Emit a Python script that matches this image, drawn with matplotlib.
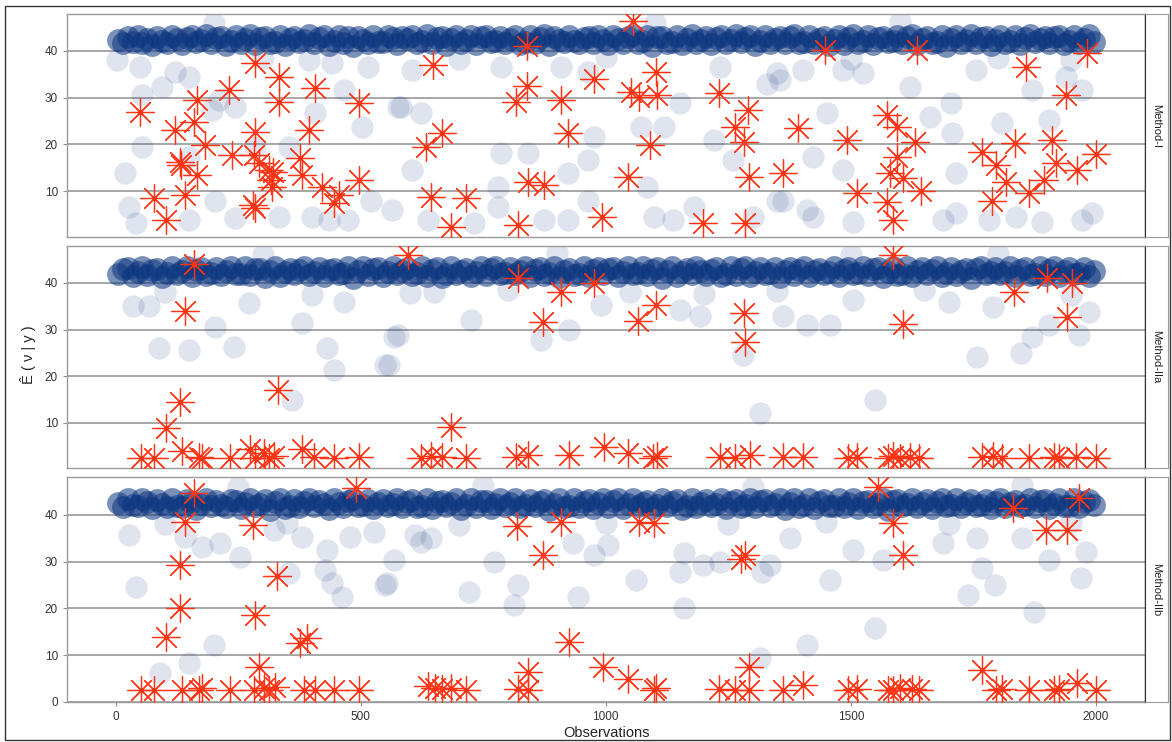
import numpy as np
import matplotlib
matplotlib.use("Agg")
import matplotlib.pyplot as plt
from matplotlib.patches import Rectangle

plt.rcParams['font.family'] = ['Liberation Sans', 'DejaVu Sans']

# ---------------- data ----------------
panel_names = ["Method-I", "Method-IIa", "Method-IIb"]
x_ticks = [0, 500, 1000, 1500, 2000]

# observation index of the band points (every 10th observation)
band_x = np.arange(5, 2000, 10)

# dense band of fitted values, one list per panel
band_y_1 = [42.3, 41.6, 42.9, 42.0, 43.3, 41.8, 42.6, 41.2, 43.0, 42.2, 41.7, 43.2, 42.5, 41.4, 42.8, 43.1, 41.9, 42.4, 43.5, 41.6,
            42.7, 42.9, 41.3, 42.1, 43.2, 41.8, 42.5, 43.4, 41.5, 42.8, 43.0, 41.7, 42.0, 43.3, 41.2, 42.6, 42.9, 41.9, 42.3, 43.4,
            41.6, 42.8, 43.1, 41.3, 42.2, 43.2, 41.8, 42.9, 41.1, 43.0, 42.4, 41.6, 43.3, 42.0, 41.9, 43.1, 42.7, 41.5, 42.9, 42.5,
            43.2, 41.8, 42.1, 43.5, 41.6, 42.8, 43.0, 41.3, 42.5, 43.2, 41.7, 42.3, 43.1, 41.4, 42.9, 43.3, 41.9, 42.2, 43.0, 41.6,
            42.6, 43.3, 41.5, 42.0, 43.1, 41.8, 42.7, 43.4, 41.2, 42.9, 42.4, 41.9, 43.2, 42.1, 41.6, 42.8, 43.0, 41.7, 43.3, 42.3,
            41.5, 43.1, 42.5, 41.8, 42.9, 43.5, 41.6, 42.2, 43.2, 41.1, 42.9, 43.0, 41.7, 42.0, 43.3, 41.5, 42.6, 43.4, 41.8, 42.4,
            43.0, 41.4, 42.8, 43.2, 41.7, 42.3, 43.4, 41.9, 42.7, 43.1, 41.3, 42.1, 43.3, 41.6, 42.5, 43.0, 41.8, 42.9, 43.5, 41.6,
            42.0, 43.2, 41.7, 42.6, 42.9, 41.2, 42.4, 43.3, 41.5, 42.8, 43.4, 41.8, 42.2, 43.1, 41.4, 42.7, 43.0, 41.9, 42.1, 43.3,
            41.7, 42.9, 43.5, 41.5, 42.5, 43.0, 41.8, 42.0, 43.3, 41.1, 42.6, 43.1, 41.6, 42.3, 43.4, 41.8, 42.8, 42.9, 41.3, 42.4,
            43.2, 41.7, 42.2, 43.3, 41.5, 42.7, 43.4, 41.9, 42.5, 43.0, 41.6, 42.9, 43.2, 41.4, 42.1, 43.1, 41.8, 42.6, 43.5, 42.0]
band_y_2 = [41.8, 42.9, 43.2, 41.5, 42.4, 43.4, 41.7, 42.7, 43.0, 41.2, 42.2, 43.3, 41.8, 42.5, 43.5, 41.4, 42.8, 43.1, 41.7, 42.1,
            43.2, 41.6, 42.6, 43.4, 41.9, 42.0, 43.5, 41.6, 42.9, 43.0, 41.3, 42.5, 43.3, 41.5, 42.3, 43.0, 41.8, 42.7, 43.4, 41.7,
            42.4, 43.2, 41.4, 42.8, 43.0, 41.8, 42.1, 43.4, 41.1, 42.6, 43.3, 41.6, 42.9, 43.1, 41.5, 42.3, 43.5, 41.9, 42.5, 43.2,
            41.7, 42.2, 43.4, 41.5, 42.7, 43.1, 41.2, 42.0, 43.4, 41.8, 42.6, 43.0, 41.4, 42.4, 43.3, 41.7, 42.9, 43.5, 41.8, 42.1,
            43.1, 41.9, 42.5, 43.4, 41.5, 42.8, 43.2, 41.6, 42.2, 43.3, 41.3, 42.6, 43.0, 41.7, 42.0, 43.5, 41.5, 42.7, 43.2, 41.8,
            42.9, 43.1, 41.4, 42.4, 43.4, 41.8, 42.1, 43.4, 41.7, 42.8, 43.1, 41.1, 42.5, 43.3, 41.5, 42.3, 43.0, 41.9, 43.5, 42.6,
            41.6, 42.7, 43.2, 41.4, 42.0, 43.3, 41.7, 42.9, 43.4, 41.5, 42.4, 43.1, 41.8, 42.2, 43.2, 41.2, 42.6, 43.2, 41.7, 42.8,
            43.4, 41.5, 42.5, 43.0, 41.8, 42.3, 43.5, 41.4, 42.7, 43.2, 41.9, 42.1, 43.3, 41.6, 42.9, 43.1, 41.3, 42.4, 43.4, 41.7,
            42.0, 43.3, 41.5, 42.6, 43.1, 41.8, 42.8, 43.5, 41.4, 42.2, 43.2, 41.7, 42.5, 43.0, 41.1, 42.9, 43.4, 41.8, 42.3, 43.1,
            41.9, 42.4, 43.4, 41.5, 42.7, 43.1, 41.7, 42.0, 43.3, 41.6, 42.8, 43.4, 41.4, 42.5, 43.2, 41.8, 42.2, 43.1, 41.5, 42.6]
band_y_3 = [42.5, 41.6, 43.3, 42.1, 41.8, 43.4, 42.7, 41.4, 43.1, 42.4, 41.7, 43.4, 42.0, 41.6, 43.2, 42.8, 41.2, 42.3, 43.5, 41.8,
            43.0, 42.2, 41.7, 43.2, 42.9, 41.5, 42.6, 43.4, 41.9, 42.4, 43.1, 41.1, 42.7, 43.3, 41.5, 42.0, 43.1, 41.7, 42.8, 43.5,
            41.8, 43.0, 42.3, 41.3, 43.3, 42.5, 41.6, 42.9, 43.4, 41.8, 42.1, 43.2, 41.4, 42.6, 43.1, 41.9, 42.4, 43.5, 41.6, 42.8,
            43.2, 41.7, 42.0, 43.4, 41.5, 42.7, 43.0, 41.8, 42.5, 43.4, 41.2, 42.2, 43.3, 41.7, 42.9, 43.0, 41.5, 42.3, 43.3, 41.8,
            42.6, 43.4, 41.6, 42.1, 43.2, 41.9, 42.8, 43.1, 41.1, 42.4, 43.3, 41.6, 42.0, 43.5, 41.7, 42.7, 43.2, 41.4, 42.5, 43.4,
            41.7, 42.9, 43.3, 41.5, 42.3, 43.5, 41.8, 42.6, 43.0, 41.5, 42.2, 43.3, 41.8, 42.8, 43.2, 41.3, 42.0, 43.4, 41.6, 42.5,
            43.2, 41.8, 42.4, 43.4, 41.4, 42.7, 43.2, 41.7, 42.1, 43.4, 41.6, 42.9, 43.1, 41.9, 42.3, 43.3, 41.2, 42.6, 43.5, 41.7,
            42.2, 43.3, 41.5, 42.8, 43.1, 41.8, 42.0, 43.5, 41.6, 42.5, 43.3, 41.5, 42.7, 43.0, 41.7, 42.4, 43.4, 41.1, 42.9, 43.2,
            41.9, 42.3, 43.4, 41.7, 42.6, 43.2, 41.4, 42.8, 43.3, 41.8, 42.2, 43.4, 41.6, 42.5, 43.2, 41.8, 42.1, 43.1, 41.5, 42.7,
            43.3, 41.6, 42.6, 43.0, 41.9, 42.2, 43.5, 41.7, 42.9, 43.2, 41.5, 42.4, 43.3, 41.8, 42.0, 43.4, 41.7, 42.7, 43.2, 42.1]

# lighter, scattered fitted values
scat_x_1 = [4, 49, 122, 150, 95, 55, 244, 211, 55, 20, 28, 41, 150, 150, 203, 244,
            333, 400, 435, 475, 522, 563, 502, 467, 407, 577, 394, 516, 441, 353,
            285, 197, 604, 583, 624, 787, 909, 963, 1071, 1118, 1152, 1234, 1329,
            1350, 787, 841, 976, 604, 922, 963, 1220, 1260, 638, 732, 780, 874, 922,
            963, 1098, 1138, 1179, 1301, 1350, 1085, 780, 1356, 1402, 1451, 1484,
            1524, 1423, 1484, 1620, 1661, 1705, 1707, 1756, 1809, 1870, 1904, 1939,
            1972, 1423, 1504, 1687, 1715, 1782, 1837, 1890, 1972, 1992, 1362, 1715,
            1410, 300, 700, 1000, 1500, 1800, 1100, 1600, 200, 1950]
scat_y_1 = [38, 36.6, 35.5, 34.4, 32.3, 30.6, 28, 29.5, 19.5, 13.9, 6.6, 3.2, 17.3,
            3.8, 8, 4.2, 4.5, 4.5, 3.8, 3.8, 8, 6, 23.7, 31.6, 26.7, 28, 38, 36.6,
            37.4, 19.5, 19.5, 27.4, 36, 28, 26.7, 36.6, 36.6, 35.5, 23.7, 23.7,
            28.8, 36.6, 33, 35.3, 18.2, 18.2, 21.6, 14.5, 13.9, 16.7, 21, 16.7,
            3.8, 3.2, 6.6, 3.8, 3.8, 8, 4.5, 3.8, 6.6, 4.5, 8, 11, 11, 33.8, 36,
            26.7, 36, 35.3, 17.3, 14.5, 32.3, 25.9, 28.8, 22.4, 36, 24.6, 31.6,
            25.2, 34.4, 31.6, 4.5, 3.4, 3.8, 5.3, 3.8, 4.5, 3.4, 3.8, 5.3, 8,
            13.9, 6, 38.5, 38.3, 38.6, 38.2, 38.4, 46, 46.2, 46, 38]
scat_x_2 = [35, 89, 150, 203, 242, 380, 431, 445, 549, 360, 569, 69, 272, 467, 577,
            557, 726, 925, 868, 1152, 1193, 1315, 1280, 990, 1362, 1410, 1457, 1504,
            1549, 1758, 1848, 1870, 1904, 1965, 1986, 1789, 1701, 100, 400, 650,
            800, 1050, 1350, 1650, 1950, 300, 900, 1500, 1800, 600, 1200]
scat_y_2 = [35, 26, 25.7, 30.6, 26.3, 31.4, 26, 21.4, 22.4, 15, 28.4, 35, 35.7, 36,
            28.9, 22.4, 32, 30, 27.8, 34.2, 33, 12.2, 24.6, 35.3, 33, 31, 31, 36.4,
            15, 24.2, 25, 28.4, 31, 28.9, 33.8, 34.9, 36, 38, 37.5, 38, 38.5, 38,
            38.2, 38.4, 37.5, 46, 46.3, 46, 46.2, 37.8, 37.6]
scat_x_3 = [41, 28, 91, 150, 201, 142, 177, 213, 254, 323, 380, 431, 427, 441, 461,
            478, 549, 569, 528, 353, 553, 610, 644, 722, 772, 821, 813, 943, 933,
            976, 1004, 1061, 1159, 1152, 1159, 1199, 1234, 1319, 1315, 624, 1335,
            1410, 1457, 1504, 1549, 1565, 1687, 1738, 1768, 1793, 1758, 1874, 1904,
            1970, 1980, 1850, 1376, 100, 350, 700, 1000, 1250, 1450, 1700, 1950,
            250, 750, 1300, 1850]
scat_y_3 = [24.6, 35.7, 6.2, 8.3, 12.2, 35.3, 33.1, 34, 31, 36.8, 35.3, 32.5, 28.2,
            25.4, 22.4, 35.3, 25, 30.4, 36.4, 27.6, 25.4, 35.7, 35, 23.5, 30, 25,
            20.7, 22.4, 34, 31.4, 33.6, 26, 31.9, 27.8, 20, 29.3, 30, 27.8, 9.4,
            34.2, 29.3, 12.2, 26, 32.5, 15.8, 30.4, 34, 22.8, 28.6, 25, 35, 19.2,
            30.4, 26.5, 32, 35, 35, 38, 38.3, 37.8, 38.2, 38, 38.4, 38, 38.5, 46,
            46.2, 46, 46.3]

# observed values flagged as outliers (asterisks)
out_x_1 = [49, 79, 102, 132, 134, 122, 160, 167, 142, 167, 183, 231, 238, 285, 285,
           282, 285, 280, 292, 313, 322, 318, 319, 333, 333, 377, 380, 394, 407, 421,
           445, 455, 496, 496, 648, 665, 634, 644, 685, 715, 817, 839, 821, 841, 874,
           909, 922, 976, 993, 1045, 1051, 1067, 1102, 1105, 1091, 1055, 1199, 1230,
           1264, 1291, 1281, 1285, 1293, 1362, 1392, 840, 1492, 1512, 1573, 1595,
           1630, 1595, 1579, 1606, 1573, 1585, 1644, 1447, 1634, 1768, 1797, 1834,
           1787, 1817, 1864, 1894, 1911, 1919, 1961, 2000, 1858, 1939, 1982]
out_y_1 = [27, 8.5, 3.8, 16.2, 15.6, 23, 24.8, 29.5, 9.2, 13.5, 19.9, 31.7, 17.8,
           37.4, 22.7, 17.8, 6.3, 7, 16, 14.5, 14.1, 12.4, 11, 34.4, 29, 17, 13.5,
           23, 32, 11, 7.4, 9.2, 12.4, 28.8, 37, 22.4, 19.5, 8.8, 2.4, 8.5, 29,
           32.5, 2.7, 12, 11.3, 29.5, 22.4, 34, 4.5, 13, 31.2, 30.2, 35.5, 30.6,
           19.9, 46.5, 3.2, 31, 23.7, 27.4, 20.5, 3.2, 13, 13.9, 23.5, 41, 21, 9.6,
           26.3, 23.7, 20.5, 17.3, 13.9, 12.8, 7.7, 3.8, 10, 40.2, 40.2, 18.4, 15.6,
           20.3, 8, 12, 9.6, 12.4, 21, 16, 14.5, 18, 36.6, 30.6, 39.5]
out_x_2 = [142, 132, 102, 331, 51, 79, 136, 170, 177, 234, 275, 285, 302, 313, 323,
           380, 404, 445, 496, 160, 597, 872, 909, 976, 1065, 1102, 1281, 1285, 685,
           624, 644, 665, 715, 817, 841, 925, 996, 1045, 1096, 1105, 1234, 1264,
           1295, 821, 1606, 1833, 1941, 1362, 1402, 1494, 1512, 1575, 1585, 1600,
           1620, 1640, 1768, 1789, 1809, 1864, 1915, 1925, 1959, 2000, 1585, 1951,
           1900]
out_y_2 = [34, 14.5, 9, 17, 2.5, 2.5, 4, 2.7, 2.5, 2.5, 4.5, 2.5, 3.5, 2.5, 3, 4.5,
           2.7, 2.5, 2.7, 44, 46, 31.6, 38, 40, 31.8, 35.3, 33.6, 27.4, 9.2, 2.5, 3,
           2.7, 2.5, 2.7, 3.2, 3.2, 4.9, 3.5, 2.5, 3, 2.7, 2.5, 3.2, 41, 31.2, 38,
           32.7, 2.7, 2.7, 2.5, 2.7, 2.5, 3, 2.5, 2.7, 2.5, 2.7, 3, 2.5, 2.5, 2.7,
           2.5, 2.7, 2.5, 46, 40, 41]
out_x_3 = [142, 132, 132, 102, 280, 285, 329, 292, 377, 390, 490, 160, 51, 79, 136,
           170, 177, 234, 282, 302, 313, 326, 384, 407, 445, 496, 819, 909, 872, 1067,
           1098, 1275, 1285, 925, 994, 1045, 1293, 638, 651, 665, 685, 715, 821, 841,
           841, 1098, 1102, 1230, 1264, 1293, 1555, 1585, 1606, 1830, 1898, 1941,
           1965, 1768, 1362, 1402, 1494, 1512, 1575, 1585, 1600, 1624, 1640, 1797,
           1809, 1864, 1915, 1925, 1961, 2000]
out_y_3 = [38.5, 29.3, 20, 13.9, 37.9, 18.6, 27, 7.5, 12.6, 13.7, 45.8, 44.7, 2.5,
           2.5, 2.5, 2.5, 3, 2.5, 2.5, 3, 2.5, 3.2, 2.5, 2.5, 2.5, 2.5, 37.6, 38.5,
           31.4, 38.5, 38.2, 30.5, 31.5, 12.8, 7.5, 5, 7.5, 3.5, 3, 2.7, 3, 2.5, 2.7,
           6.4, 2.5, 2.5, 3, 2.7, 2.5, 2.5, 46, 38.3, 31.4, 41.5, 36.8, 36.8, 43.6,
           6.8, 2.5, 3.6, 2.5, 2.7, 2.5, 2.5, 3, 2.7, 2.5, 2.5, 2.7, 2.5, 2.5, 2.7,
           4, 2.5]

band_list = [band_y_1, band_y_2, band_y_3]
scat_list = [(scat_x_1, scat_y_1), (scat_x_2, scat_y_2), (scat_x_3, scat_y_3)]
out_list = [(out_x_1, out_y_1), (out_x_2, out_y_2), (out_x_3, out_y_3)]
y_limits = [(0.2, 47.9), (0.35, 47.9), (0, 48.1)]
y_tick_sets = [[10, 20, 30, 40], [10, 20, 30, 40], [0, 10, 20, 30, 40]]

# ---------------- figure ----------------
W, H = 1172, 742
fig = plt.figure(figsize=(W / 100, H / 100), dpi=100)

navy = '#0c3580'
red = '#ff3414'

# panel boxes in pixels: (top, bottom)
panel_px = [(14, 237), (246, 468), (477, 702)]
left_px, right_px, strip_right_px = 67, 1145, 1168

for i in range(3):
    top, bot = panel_px[i]
    ax = fig.add_axes([left_px / W, 1 - bot / H, (right_px - left_px) / W, (bot - top) / H])
    sx, sy = scat_list[i]
    ox, oy = out_list[i]
    ax.scatter(sx, sy, s=260, color=navy, alpha=0.13, linewidths=0, zorder=2)
    ax.scatter(band_x, band_list[i], s=270, color=navy, alpha=0.55, linewidths=0, zorder=3)
    ax.scatter(ox, oy, s=400, marker=(8, 2, 0), color=red, linewidths=0.9, zorder=4)

    ax.set_xlim(-99, 2100)
    ax.set_ylim(*y_limits[i])
    ax.set_yticks(y_tick_sets[i])
    ax.set_xticks(x_ticks)
    ax.grid(axis='y', color='#8f8f8f', linewidth=1.1, zorder=1)
    ax.set_axisbelow(True)
    ax.tick_params(axis='both', colors='#8f8f8f', labelcolor='#333333',
                   labelsize=8.5, length=3, width=0.8)
    if i < 2:
        ax.tick_params(axis='x', labelbottom=False, length=0)
    for sp in ax.spines.values():
        sp.set_color('#9a9a9a')
        sp.set_linewidth(1.0)
    ax.spines['right'].set_color('#333333')

    # facet strip on the right
    sax = fig.add_axes([right_px / W, 1 - bot / H, (strip_right_px - right_px) / W, (bot - top) / H])
    sax.set_xticks([])
    sax.set_yticks([])
    for sp in sax.spines.values():
        sp.set_color('#9a9a9a')
    sax.spines['left'].set_color('#333333')
    sax.text(0.5, 0.5, panel_names[i], rotation=-90, ha='center', va='center',
             fontsize=8, color='#222222', transform=sax.transAxes)

fig.text(606 / W, 1 - 733 / H, 'Observations', ha='center', va='center', fontsize=10.5, color='#222222')
fig.text(28 / W, 1 - 355 / H, 'Ê ( ν | y )', ha='center', va='center', rotation=90,
         fontsize=10.5, color='#222222')

# outer frame
fig.patches.append(Rectangle((5 / W, 1 - 740 / H), 1165 / W, 734 / H, transform=fig.transFigure,
                             fill=False, edgecolor='#333333', linewidth=1.0))

fig.savefig('out.png', dpi=100)
